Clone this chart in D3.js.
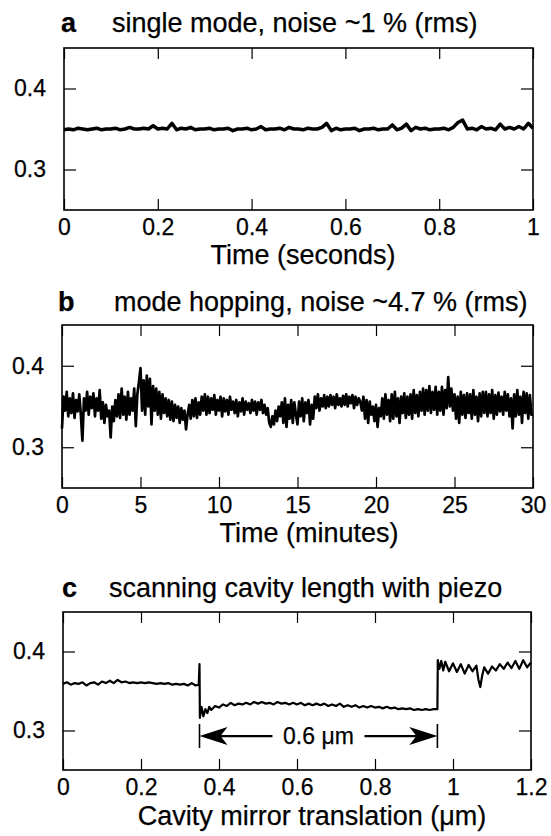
<!DOCTYPE html>
<html>
<head>
<meta charset="utf-8">
<script src="https://cdn.jsdelivr.net/npm/d3@7"></script>
<style>
  body { margin: 0; background: #fff; }
  svg { display: block; }
  text { font-family: "Liberation Sans", Arial, Helvetica, sans-serif; fill: #000; stroke: #000; stroke-width: 0.25px; }
</style>
</head>
<body>
<svg width="551" height="836"></svg>
<script>
// ---- data ----
var yTicks = [0.3, 0.4];

// a: single mode, 0..1 s, one sample every 0.01 s
var aTicksX = [0, 0.2, 0.4, 0.6, 0.8, 1];
var aValues = [
  0.349, 0.350, 0.349, 0.351, 0.350, 0.349, 0.350, 0.351, 0.349, 0.350, 0.350,
  0.351, 0.349, 0.350, 0.352, 0.350, 0.350, 0.351, 0.350, 0.354, 0.350,
  0.351, 0.350, 0.357, 0.349, 0.351, 0.350, 0.352, 0.349, 0.350, 0.350,
  0.351, 0.349, 0.350, 0.350, 0.351, 0.348, 0.350, 0.350, 0.351, 0.349,
  0.350, 0.353, 0.349, 0.350, 0.350, 0.351, 0.349, 0.352, 0.350, 0.350,
  0.349, 0.351, 0.350, 0.350, 0.352, 0.357, 0.348, 0.351, 0.349, 0.350,
  0.350, 0.351, 0.348, 0.350, 0.350, 0.351, 0.349, 0.350, 0.350, 0.355,
  0.349, 0.351, 0.356, 0.348, 0.352, 0.350, 0.351, 0.349, 0.350, 0.350,
  0.351, 0.349, 0.352, 0.358, 0.361, 0.350, 0.351, 0.349, 0.353, 0.350,
  0.351, 0.349, 0.356, 0.350, 0.352, 0.350, 0.353, 0.350, 0.357, 0.351
];

// b: mode hopping, 0..30 min, ten samples per minute
var bTicksX = [0, 5, 10, 15, 20, 25, 30];
var bValues = [
  0.323, 0.362, 0.345, 0.368, 0.338, 0.360, 0.342, 0.366, 0.336, 0.358,
  0.344, 0.365, 0.340, 0.308, 0.360, 0.345, 0.368, 0.340, 0.362, 0.348,
  0.366, 0.338, 0.360, 0.345, 0.370, 0.335, 0.355, 0.330, 0.352, 0.338,
  0.345, 0.312, 0.350, 0.332, 0.358, 0.338, 0.365, 0.336, 0.372, 0.340,
  0.362, 0.334, 0.368, 0.340, 0.360, 0.345, 0.372, 0.326, 0.365, 0.380,
  0.397, 0.345, 0.382, 0.340, 0.388, 0.350, 0.384, 0.328, 0.375, 0.345,
  0.372, 0.340, 0.368, 0.335, 0.365, 0.342, 0.360, 0.338, 0.358, 0.334,
  0.356, 0.332, 0.352, 0.336, 0.350, 0.330, 0.348, 0.334, 0.345, 0.322,
  0.340, 0.352, 0.335, 0.358, 0.338, 0.360, 0.336, 0.355, 0.340, 0.362,
  0.345, 0.365, 0.340, 0.362, 0.342, 0.360, 0.346, 0.364, 0.340, 0.358,
  0.345, 0.362, 0.338, 0.360, 0.344, 0.358, 0.340, 0.362, 0.346, 0.356,
  0.342, 0.358, 0.338, 0.355, 0.344, 0.360, 0.340, 0.356, 0.346, 0.354,
  0.342, 0.358, 0.345, 0.356, 0.340, 0.355, 0.346, 0.358, 0.342, 0.352,
  0.340, 0.348, 0.330, 0.325, 0.338, 0.328, 0.345, 0.332, 0.350, 0.338,
  0.355, 0.330, 0.360, 0.325, 0.352, 0.335, 0.358, 0.330, 0.355, 0.340,
  0.328, 0.356, 0.338, 0.360, 0.332, 0.355, 0.342, 0.358, 0.328, 0.352,
  0.335, 0.362, 0.348, 0.365, 0.345, 0.360, 0.350, 0.364, 0.348, 0.362,
  0.350, 0.364, 0.352, 0.362, 0.348, 0.365, 0.352, 0.360, 0.350, 0.363,
  0.352, 0.365, 0.350, 0.362, 0.354, 0.364, 0.348, 0.362, 0.352, 0.360,
  0.356, 0.345, 0.362, 0.335, 0.358, 0.330, 0.356, 0.340, 0.350, 0.332,
  0.352, 0.325, 0.348, 0.338, 0.360, 0.335, 0.365, 0.340, 0.358, 0.332,
  0.365, 0.335, 0.368, 0.338, 0.360, 0.330, 0.362, 0.342, 0.366, 0.336,
  0.362, 0.340, 0.365, 0.335, 0.370, 0.342, 0.364, 0.338, 0.368, 0.345,
  0.372, 0.340, 0.370, 0.345, 0.375, 0.342, 0.368, 0.346, 0.374, 0.340,
  0.368, 0.345, 0.374, 0.340, 0.370, 0.348, 0.386, 0.350, 0.372, 0.345,
  0.365, 0.335, 0.362, 0.330, 0.368, 0.340, 0.364, 0.336, 0.366, 0.342,
  0.365, 0.335, 0.370, 0.340, 0.362, 0.332, 0.366, 0.338, 0.368, 0.342,
  0.368, 0.338, 0.365, 0.342, 0.370, 0.335, 0.364, 0.340, 0.367, 0.344,
  0.362, 0.340, 0.368, 0.345, 0.365, 0.338, 0.360, 0.323, 0.365, 0.338,
  0.370, 0.340, 0.362, 0.330, 0.368, 0.342, 0.366, 0.335, 0.364, 0.340,
  0.340
];

// c: piezo scan, [translation (um), signal]
var cTicksX = [0, 0.2, 0.4, 0.6, 0.8, 1, 1.2];
var cPoints = [
  [0, 0.359], [0.01, 0.361], [0.02, 0.358], [0.03, 0.360], [0.04, 0.359], [0.05, 0.361],
  [0.06, 0.357], [0.07, 0.360], [0.08, 0.361], [0.09, 0.358], [0.10, 0.362], [0.11, 0.360],
  [0.12, 0.363], [0.13, 0.360], [0.14, 0.364], [0.15, 0.361], [0.16, 0.362], [0.17, 0.360],
  [0.18, 0.361], [0.19, 0.360], [0.20, 0.361], [0.21, 0.360], [0.22, 0.361], [0.23, 0.360],
  [0.24, 0.359], [0.25, 0.360], [0.26, 0.359], [0.27, 0.360], [0.28, 0.358], [0.29, 0.359],
  [0.30, 0.358], [0.31, 0.359], [0.32, 0.357], [0.33, 0.360], [0.34, 0.357], [0.348, 0.358],
  [0.35, 0.384], [0.351, 0.316], [0.355, 0.330], [0.36, 0.318], [0.365, 0.327], [0.37, 0.322],
  [0.375, 0.330], [0.38, 0.326], [0.39, 0.331], [0.40, 0.329], [0.41, 0.333], [0.42, 0.331],
  [0.43, 0.335], [0.44, 0.332], [0.45, 0.334], [0.46, 0.333], [0.47, 0.335], [0.48, 0.333],
  [0.49, 0.336], [0.50, 0.334], [0.51, 0.336], [0.52, 0.334], [0.53, 0.335], [0.54, 0.333],
  [0.55, 0.336], [0.56, 0.334], [0.57, 0.335], [0.58, 0.333], [0.59, 0.335], [0.60, 0.333],
  [0.61, 0.335], [0.62, 0.332], [0.63, 0.334], [0.64, 0.332], [0.65, 0.334], [0.66, 0.332],
  [0.67, 0.334], [0.68, 0.331], [0.69, 0.333], [0.70, 0.331], [0.71, 0.334], [0.72, 0.330],
  [0.73, 0.332], [0.74, 0.330], [0.75, 0.332], [0.76, 0.329], [0.77, 0.331], [0.78, 0.329],
  [0.79, 0.331], [0.80, 0.329], [0.81, 0.330], [0.82, 0.328], [0.83, 0.330], [0.84, 0.328],
  [0.85, 0.329], [0.86, 0.327], [0.87, 0.328], [0.88, 0.327], [0.89, 0.328], [0.90, 0.326],
  [0.91, 0.327], [0.92, 0.326], [0.93, 0.327], [0.94, 0.326], [0.95, 0.327], [0.96, 0.327],
  [0.961, 0.389], [0.965, 0.378], [0.97, 0.388], [0.975, 0.376], [0.98, 0.387], [0.99, 0.375],
  [1.00, 0.385], [1.01, 0.374], [1.02, 0.384], [1.03, 0.372], [1.04, 0.383], [1.05, 0.375],
  [1.06, 0.382], [1.065, 0.365], [1.07, 0.355], [1.075, 0.370], [1.08, 0.380], [1.09, 0.372],
  [1.10, 0.381], [1.11, 0.376], [1.12, 0.384], [1.13, 0.378], [1.14, 0.386], [1.15, 0.379],
  [1.16, 0.388], [1.17, 0.378], [1.18, 0.389], [1.19, 0.380], [1.20, 0.386]
];
var cSpan = { from: 0.35, to: 0.96, level: 0.293, label: "0.6 \u03bcm" };

var svg = d3.select("svg");

function panel(opt) {
  var x = d3.scaleLinear().domain(opt.xDomain).range([opt.left, opt.right]);
  var y = d3.scaleLinear().domain([0.25, 0.45]).range([opt.bottom, opt.top]);
  var g = svg.append("g");

  // title
  g.append("text").attr("x", opt.letterX).attr("y", opt.titleY)
    .attr("font-size", 27).attr("font-weight", "bold").text(opt.letter);
  g.append("text").attr("x", opt.titleX).attr("y", opt.titleY)
    .attr("font-size", 27).text(opt.title);

  // trace
  g.append("path")
    .datum(opt.points)
    .attr("fill", "none")
    .attr("stroke", "#000")
    .attr("stroke-width", opt.lineWidth)
    .attr("stroke-linejoin", "round")
    .attr("d", d3.line().x(function(d) { return x(d[0]); }).y(function(d) { return y(d[1]); }));

  // axes, ticks pointing inward
  var bottom = g.append("g").attr("transform", "translate(0," + opt.bottom + ")")
    .call(d3.axisBottom(x).tickValues(opt.ticksX).tickSize(-11).tickPadding(9).tickFormat(function(d) { return d; }));
  var top = g.append("g").attr("transform", "translate(0," + opt.top + ")")
    .call(d3.axisTop(x).tickValues(opt.ticksX).tickSize(-11).tickFormat(""));
  var left = g.append("g").attr("transform", "translate(" + opt.left + ",0)")
    .call(d3.axisLeft(y).tickValues(yTicks).tickSize(-12).tickPadding(18).tickFormat(d3.format(".1f")));
  var right = g.append("g").attr("transform", "translate(" + opt.right + ",0)")
    .call(d3.axisRight(y).tickValues(yTicks).tickSize(-12).tickFormat(""));

  [bottom, top, left, right].forEach(function(a) {
    a.select(".domain").remove();
    a.selectAll(".tick line").attr("stroke", "#000").attr("stroke-width", 1.2);
    a.selectAll(".tick text").attr("font-size", 23).attr("font-family", null).attr("fill", "#000");
  });

  // frame
  g.append("rect")
    .attr("x", opt.left).attr("y", opt.top)
    .attr("width", opt.right - opt.left).attr("height", opt.bottom - opt.top)
    .attr("fill", "none").attr("stroke", "#000").attr("stroke-width", 1.6);

  // x-axis title
  g.append("text").attr("x", opt.xTitleX).attr("y", opt.xTitleY)
    .attr("text-anchor", "middle").attr("font-size", 27).text(opt.xTitle);

  return { g: g, x: x, y: y };
}

var aPts = aValues.map(function(v, i) { return [i / (aValues.length - 1), v]; });
var bPts = bValues.map(function(v, i) { return [i / 10, v]; });

panel({
  letter: "a", title: "single mode, noise ~1 % (rms)", letterX: 61, titleX: 112, titleY: 32,
  xDomain: [0, 1], ticksX: aTicksX, points: aPts, lineWidth: 3.5,
  left: 64, right: 533, top: 48, bottom: 210,
  xTitle: "Time (seconds)", xTitleX: 303, xTitleY: 264
});

panel({
  letter: "b", title: "mode hopping, noise ~4.7 % (rms)", letterX: 58, titleX: 114, titleY: 311,
  xDomain: [0, 30], ticksX: bTicksX, points: bPts, lineWidth: 2.7,
  left: 62, right: 533, top: 325, bottom: 488,
  xTitle: "Time (minutes)", xTitleX: 309, xTitleY: 542
});

var c = panel({
  letter: "c", title: "scanning cavity length with piezo", letterX: 62, titleX: 109, titleY: 597,
  xDomain: [0, 1.2], ticksX: cTicksX, points: cPoints, lineWidth: 2.2,
  left: 63, right: 531, top: 612, bottom: 770,
  xTitle: "Cavity mirror translation (\u03bcm)", xTitleX: 312, xTitleY: 825
});

// span annotation in panel c
var ax0 = c.x(cSpan.from), ax1 = c.x(cSpan.to), ay = c.y(cSpan.level);
var mid = (ax0 + ax1) / 2;
var ann = c.g.append("g");
ann.selectAll("line.bar").data([ax0, ax1]).enter().append("line")
  .attr("x1", function(d) { return d; }).attr("x2", function(d) { return d; })
  .attr("y1", ay - 12).attr("y2", ay + 12)
  .attr("stroke", "#000").attr("stroke-width", 1.6);
ann.append("line").attr("x1", ax0 + 20).attr("x2", mid - 46).attr("y1", ay).attr("y2", ay)
  .attr("stroke", "#000").attr("stroke-width", 2.2);
ann.append("line").attr("x1", mid + 46).attr("x2", ax1 - 20).attr("y1", ay).attr("y2", ay)
  .attr("stroke", "#000").attr("stroke-width", 2.2);
ann.append("path")
  .attr("d", "M" + ax0 + "," + ay + "L" + (ax0 + 28) + "," + (ay - 9) + "L" + (ax0 + 21) + "," + ay + "L" + (ax0 + 28) + "," + (ay + 9) + "Z");
ann.append("path")
  .attr("d", "M" + ax1 + "," + ay + "L" + (ax1 - 28) + "," + (ay - 9) + "L" + (ax1 - 21) + "," + ay + "L" + (ax1 - 28) + "," + (ay + 9) + "Z");
ann.append("text").attr("x", mid).attr("y", ay + 8)
  .attr("text-anchor", "middle").attr("font-size", 23).text(cSpan.label);
</script>
</body>
</html>
